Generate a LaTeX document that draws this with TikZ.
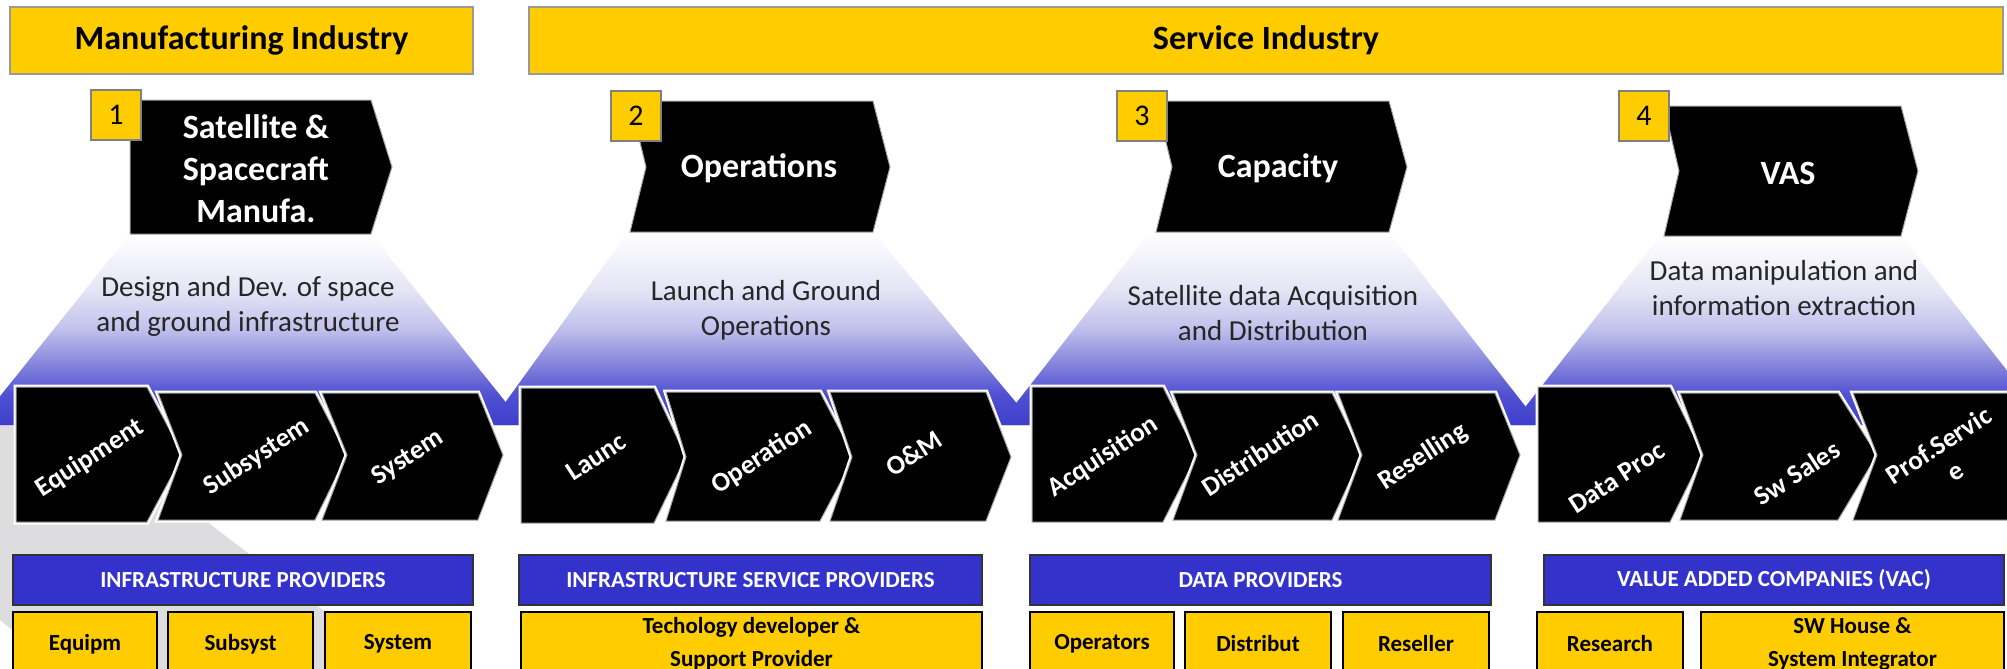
\documentclass[tikz,border=0pt]{standalone}
\usepackage{fontspec}
\setmainfont{Carlito}
\usepackage{tikz}

\definecolor{gold}{RGB}{255,204,0}
\definecolor{barblue}{RGB}{51,51,204}
\definecolor{shadowgrey}{RGB}{221,221,223}
\definecolor{fadeA}{RGB}{228,228,245}
\definecolor{fadeB}{RGB}{192,192,236}
\definecolor{fadeC}{RGB}{140,140,222}
\definecolor{fadeD}{RGB}{80,80,210}
\definecolor{fadeE}{RGB}{62,62,204}
\pgfdeclareverticalshading{fade}{100bp}{color(0bp)=(fadeE); color(25bp)=(fadeE); color(33bp)=(fadeD); color(42bp)=(fadeC); color(50bp)=(fadeB); color(60bp)=(fadeA); color(75bp)=(white); color(100bp)=(white)}

\begin{document}
\begin{tikzpicture}[x=1pt,y=-1pt,
    hdbox/.style={draw=gray!80, line width=1.2pt, fill=gold, inner sep=0pt, font=\bfseries\fontsize{34}{40}\selectfont},
    numbox/.style={draw=gray, line width=1.2pt, fill=gold, minimum size=50, inner sep=0pt, font=\fontsize{30}{36}\selectfont},
    chev/.style={fill=black, draw=gray!70, line width=1pt},
    schev/.style={fill=black, draw=gray!70, line width=1pt, preaction={draw=white, line width=5pt}},
    ttl/.style={text=white, font=\bfseries\fontsize{34}{42}\selectfont, align=center},
    desc/.style={text=black!85, font=\fontsize{29}{35}\selectfont, align=center},
    stxt/.style={text=white, font=\bfseries\fontsize{27}{31}\selectfont, rotate=33, align=center},
    bbar/.style={draw=black!80, line width=1.2pt, fill=barblue, text=white, minimum height=50, inner sep=0pt, font=\bfseries\fontsize{23}{28}\selectfont},
    ybox/.style={draw=black, line width=1.2pt, fill=gold, minimum height=64, inner sep=0pt, align=center, font=\bfseries\fontsize{23}{33}\selectfont}]

    \useasboundingbox (0,0) rectangle (2007,669);
    \clip (0,0) rectangle (2007,669);
    \fill[white] (0,0) rectangle (2007,669);

    % grey shadow
    \fill[shadowgrey] (0,425) -- (80,425) -- (400,669) -- (60,669) -- (0,620) -- cycle;

    % fades
    \shade[shading=fade] (130,234) -- (371,234) -- (524,425) -- (-23,425) -- cycle;
    \shade[shading=fade] (628,232) -- (873,232) -- (1035,425) -- (489,425) -- cycle;
    \shade[shading=fade] (1150,232) -- (1389,232) -- (1540,425) -- (999,425) -- cycle;
    \shade[shading=fade] (1660,236) -- (1901,236) -- (2050,425) -- (1511,425) -- cycle;

    % headers
    \node[hdbox, minimum width=463, minimum height=67] (manu) at (241.5,40.5) {Manufacturing Industry};
    \node[hdbox, minimum width=1474, minimum height=67] (serv) at (1266,40.5) {Service Industry};

    % 1
    \filldraw[chev] (130,100) -- (371,100) -- (392,167) -- (371,234) -- (130,234) -- cycle;
    \node[numbox] (n1) at (116,115) {1};
    \node[ttl] (t1) at (256,169) {Satellite \&\\Spacecraft\\Manufa.};
    \node[desc] (d1) at (248,306) {Design and Dev. of space\\and ground infrastructure};
    % 2
    \filldraw[chev] (630,101) -- (873,101) -- (890,167) -- (873,232) -- (630,232) -- (646,167) -- cycle;
    \node[numbox] (n2) at (636,116) {2};
    \node[ttl] (t2) at (759,168) {Operations};
    \node[desc] (d2) at (766,310) {Launch and Ground\\Operations};
    % 3
    \filldraw[chev] (1156,101) -- (1389,101) -- (1407,167) -- (1389,232) -- (1156,232) -- (1172,167) -- cycle;
    \node[numbox] (n3) at (1142,116) {3};
    \node[ttl] (t3) at (1278,168) {Capacity};
    \node[desc] (d3) at (1273,313) {Satellite data Acquisition\\and Distribution};
    % 4
    \filldraw[chev] (1664,106) -- (1901,106) -- (1918,171) -- (1901,236) -- (1664,236) -- (1679,171) -- cycle;
    \node[numbox] (n4) at (1644,116) {4};
    \node[ttl] (t4) at (1788,173) {VAS};
    \node[desc] (d4) at (1784,288) {Data manipulation and\\information extraction};

    % small chevrons 1
    \filldraw[schev] (16,387) -- (147,387) -- (183,455) -- (147,522) -- (16,522) -- cycle;
    \filldraw[schev] (158,393) -- (315,393) -- (347,455) -- (315,520) -- (158,520) -- (182,455) -- cycle;
    \filldraw[schev] (322,393) -- (478,393) -- (503,455) -- (478,520) -- (322,520) -- (347,455) -- cycle;
    \node[stxt] (s11) at (90,458) {Equipment};
    \node[stxt] (s12) at (257,457) {Subsystem};
    \node[stxt] (s13) at (408,458) {System};
    % small chevrons 2
    \filldraw[schev] (521,388) -- (654,388) -- (686,457) -- (654,523) -- (521,523) -- cycle;
    \filldraw[schev] (666,392) -- (820,392) -- (854,457) -- (820,521) -- (666,521) -- (686,457) -- cycle;
    \filldraw[schev] (830,392) -- (986,392) -- (1011,457) -- (986,521) -- (830,521) -- (852,457) -- cycle;
    \node[stxt] (s21) at (596,457) {Launc};
    \node[stxt] (s22) at (762,457) {Operation};
    \node[stxt] (s23) at (914,453) {O\&M};
    % small chevrons 3
    \filldraw[schev] (1032,387) -- (1163,387) -- (1197,455) -- (1163,522) -- (1032,522) -- cycle;
    \filldraw[schev] (1173,393) -- (1332,393) -- (1362,455) -- (1332,520) -- (1173,520) -- (1197,455) -- cycle;
    \filldraw[schev] (1338,393) -- (1495,393) -- (1520,455) -- (1495,520) -- (1338,520) -- (1362,455) -- cycle;
    \node[stxt] (s31) at (1103,457) {Acquisition};
    \node[stxt] (s32) at (1260,453) {Distribution};
    \node[stxt] (s33) at (1423,457) {Reselling};
    % small chevrons 4
    \filldraw[schev] (1538,387) -- (1670,387) -- (1703,455) -- (1670,522) -- (1538,522) -- cycle;
    \filldraw[schev] (1680,393) -- (1838,393) -- (1877,455) -- (1838,520) -- (1680,520) -- (1703,455) -- cycle;
    \filldraw[schev] (1853,393) -- (2030,393) -- (2030,520) -- (1853,520) -- (1877,455) -- cycle;
    \node[stxt] (s41) at (1617,478) {Data Proc};
    \node[stxt] (s42) at (1797,473) {Sw Sales};
    \node[stxt] (s43) at (1947,458) {Prof.Servic\\e};

    % bars
    \node[bbar, minimum width=460] (b1) at (243,580) {INFRASTRUCTURE PROVIDERS};
    \node[bbar, minimum width=463] (b2) at (750.5,580) {INFRASTRUCTURE SERVICE PROVIDERS};
    \node[bbar, minimum width=461] (b3) at (1260.5,580) {DATA PROVIDERS};
    \node[bbar, minimum width=460] (b4) at (1774,580) {VALUE ADDED COMPANIES (VAC)};

    % players
    \node[ybox, minimum width=144] (y11) at (85,644) {Equipm};
    \node[ybox, minimum width=145] (y12) at (240.5,644) {Subsyst};
    \node[ybox, minimum width=146] (y13) at (398,644) {System};
    \node[ybox, minimum width=461] (y21) at (751.5,644) {Techology developer \&\\Support Provider};
    \node[ybox, minimum width=144] (y31) at (1102,644) {Operators};
    \node[ybox, minimum width=146] (y32) at (1258,644) {Distribut};
    \node[ybox, minimum width=146] (y33) at (1416,644) {Reseller};
    \node[ybox, minimum width=146] (y41) at (1610,644) {Research};
    \node[ybox, minimum width=303] (y42) at (1852.5,644) {SW House \&\\System Integrator};
\end{tikzpicture}
\end{document}
